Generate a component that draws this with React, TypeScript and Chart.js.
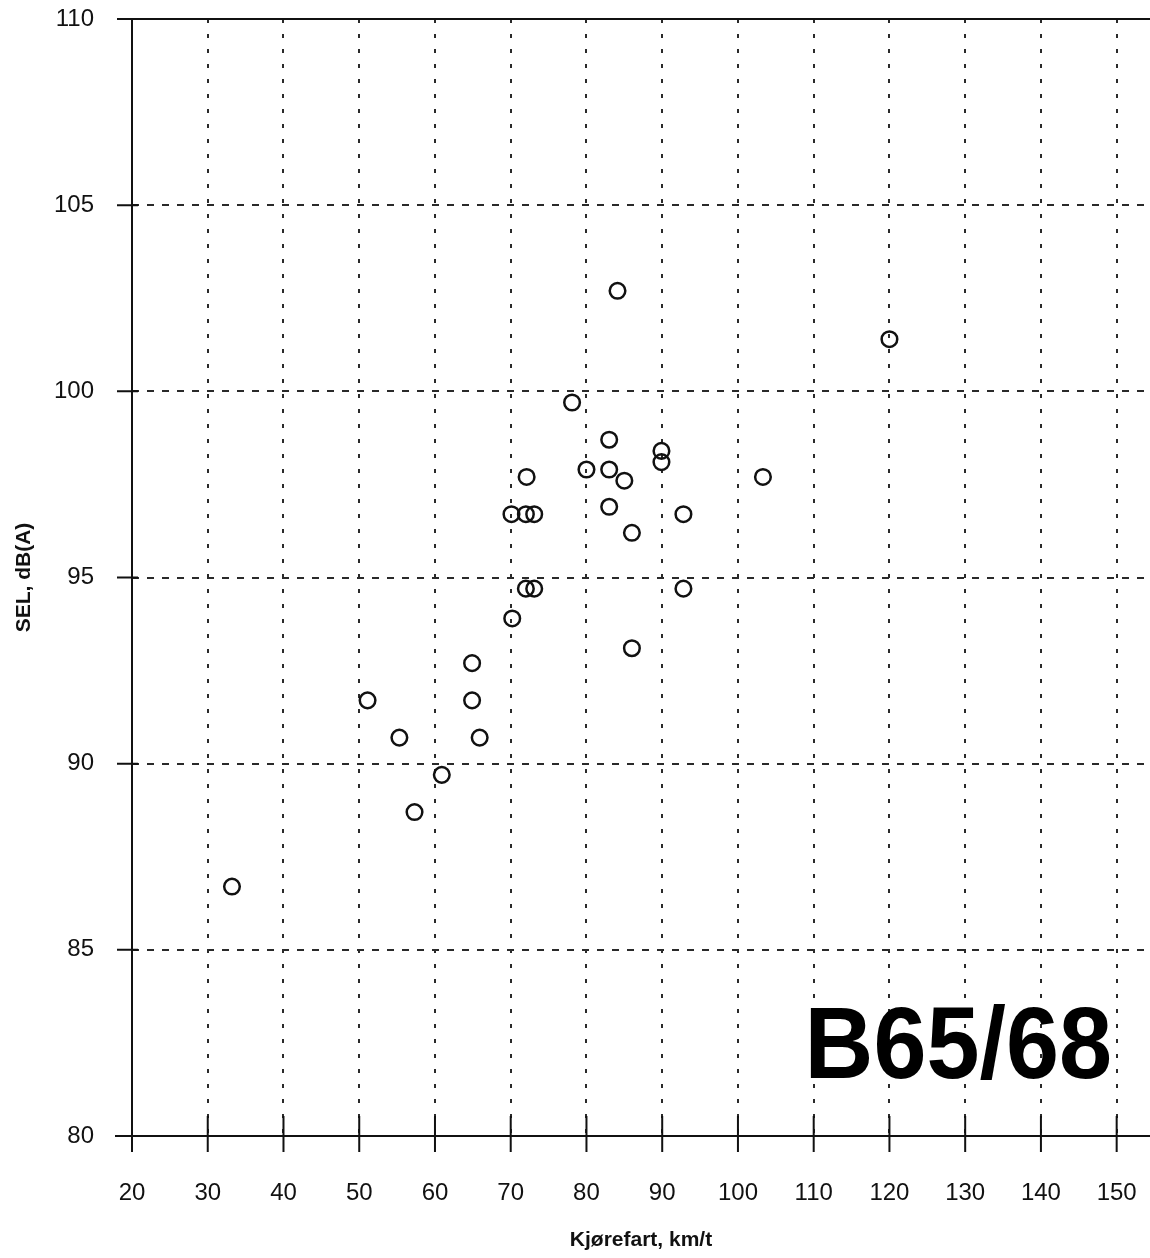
import React, { useEffect, useRef } from "react";
import { Chart, registerables } from "chart.js";

Chart.register(...registerables);

const speeds = [33.2, 51.1, 55.3, 57.3, 60.9, 64.9, 64.9, 65.9, 70.2, 70.1, 72.0, 73.1, 72.1, 72.0, 73.1, 78.1, 80.0, 83.0, 83.0, 83.0, 85.0, 84.1, 86.0, 86.0, 89.9, 89.9, 92.8, 92.8, 103.3, 120.0];
const selValues = [86.7, 91.7, 90.7, 88.7, 89.7, 92.7, 91.7, 90.7, 93.9, 96.7, 96.7, 96.7, 97.7, 94.7, 94.7, 99.7, 97.9, 98.7, 97.9, 96.9, 97.6, 102.7, 96.2, 93.1, 98.4, 98.1, 96.7, 94.7, 97.7, 101.4];
const xTickValues = [20, 30, 40, 50, 60, 70, 80, 90, 100, 110, 120, 130, 140, 150];
const yTickValues = [80, 85, 90, 95, 100, 105, 110];
const xTitle = "Kjørefart, km/t";
const yTitle = "SEL, dB(A)";
const stamp = "B65/68";

const FONT = "'Liberation Sans', Arial, Helvetica, sans-serif";
const INK = "#111111";

const axesPlugin = {
  id: "paperAxes",
  afterDraw(chart: any) {
    const ctx = chart.ctx;
    const xs = chart.scales.x;
    const ys = chart.scales.y;
    const x0 = xs.getPixelForValue(20);
    const yBottom = ys.getPixelForValue(80);
    const yTop = ys.getPixelForValue(110);
    const W = chart.width;
    ctx.save();
    ctx.strokeStyle = INK;
    ctx.lineWidth = 2;
    ctx.setLineDash([]);
    ctx.beginPath();
    ctx.moveTo(x0 - 15, yTop);
    ctx.lineTo(W, yTop);
    ctx.moveTo(x0 - 17, yBottom);
    ctx.lineTo(W, yBottom);
    ctx.moveTo(x0, yTop);
    ctx.lineTo(x0, yBottom + 16);
    xTickValues.forEach((v) => {
      const px = xs.getPixelForValue(v);
      ctx.moveTo(px, yBottom - 20);
      ctx.lineTo(px, yBottom + 16);
    });
    yTickValues.forEach((v) => {
      const py = ys.getPixelForValue(v);
      ctx.moveTo(x0 - 15, py);
      ctx.lineTo(x0 + 6, py);
    });
    ctx.stroke();

    ctx.fillStyle = "#000";
    ctx.font = `bold 102px ${FONT}`;
    ctx.textBaseline = "alphabetic";
    ctx.textAlign = "left";
    ctx.translate(xs.getPixelForValue(108.8), ys.getPixelForValue(81.55));
    ctx.scale(0.935, 1);
    ctx.fillText(stamp, 0, 0);
    ctx.restore();
  },
};

const zeroPad = (scale: any) => {
  scale.paddingTop = 0;
  scale.paddingBottom = 0;
  scale.paddingLeft = 0;
  scale.paddingRight = 0;
};

export default function App() {
  const ref = useRef<HTMLCanvasElement | null>(null);
  useEffect(() => {
    document.body.style.margin = "0";
    document.body.style.background = "#fff";
    const canvas = ref.current;
    if (!canvas) return;
    const chart = new Chart(canvas, {
      type: "scatter",
      data: {
        datasets: [
          {
            data: speeds.map((s, i) => ({ x: s, y: selValues[i] })),
            pointStyle: "circle",
            pointRadius: 7.8,
            pointBorderWidth: 2.5,
            pointBorderColor: INK,
            pointBackgroundColor: "rgba(0,0,0,0)",
            showLine: false,
          },
        ],
      },
      options: {
        animation: false,
        responsive: false,
        devicePixelRatio: 1,
        layout: { autoPadding: false, padding: { top: 19, right: 0, left: 0, bottom: 0 } },
        plugins: { legend: { display: false }, tooltip: { enabled: false }, title: { display: false } },
        scales: {
          x: {
            type: "linear",
            min: 20,
            max: 154.4,
            afterBuildTicks: (scale: any) => {
              scale.ticks = xTickValues.map((v) => ({ value: v }));
            },
            afterFit: (scale: any) => {
              scale.height = 122;
              zeroPad(scale);
            },
            border: { display: false, dash: [4, 11] },
            grid: {
              drawTicks: false,
              lineWidth: 2,
              color: (c: any) => (c.tick && c.tick.value === 20 ? "rgba(0,0,0,0)" : "#2a2a2a"),
            },
            ticks: {
              padding: 43,
              color: INK,
              font: { family: FONT, size: 24 },
              maxRotation: 0,
              autoSkip: false,
            },
            title: {
              display: true,
              text: xTitle,
              color: INK,
              font: { family: FONT, size: 21, weight: "bold" },
              padding: { top: 0, bottom: 5 },
            },
          },
          y: {
            type: "linear",
            min: 80,
            max: 110,
            afterBuildTicks: (scale: any) => {
              scale.ticks = yTickValues.map((v) => ({ value: v }));
            },
            afterFit: (scale: any) => {
              scale.width = 132;
              zeroPad(scale);
            },
            border: { display: false, dash: [7, 8] },
            grid: {
              drawTicks: false,
              lineWidth: 2,
              color: (c: any) =>
                c.tick && (c.tick.value === 80 || c.tick.value === 110) ? "rgba(0,0,0,0)" : "#2a2a2a",
            },
            ticks: {
              padding: 38,
              color: INK,
              font: { family: FONT, size: 24 },
              autoSkip: false,
            },
            title: {
              display: true,
              text: yTitle,
              color: INK,
              font: { family: FONT, size: 21, weight: "bold" },
              padding: { top: 12, bottom: 0 },
            },
          },
        },
      },
      plugins: [axesPlugin],
    } as any);
    return () => chart.destroy();
  }, []);
  return (
    <div style={{ width: 1150, height: 1258 }}>
      <canvas ref={ref} width={1150} height={1258} style={{ display: "block" }} />
    </div>
  );
}
